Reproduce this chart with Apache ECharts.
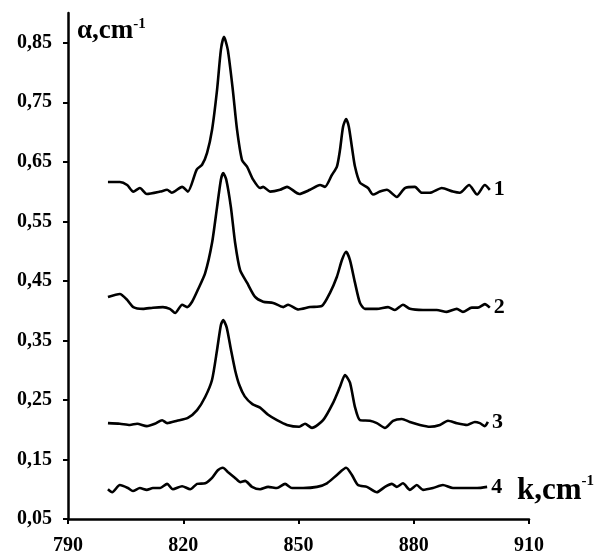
<!DOCTYPE html>
<html>
<head>
<meta charset="utf-8">
<script src="https://cdn.jsdelivr.net/npm/echarts@6/dist/echarts.min.js"></script>
<style>html,body{margin:0;padding:0;background:#fff}#c{width:604px;height:559px}</style>
</head>
<body>
<div id="c"></div>
<script>
// ---- data ----
const yTicks = [0.05, 0.15, 0.25, 0.35, 0.45, 0.55, 0.65, 0.75, 0.85];
const xTicks = [790, 820, 850, 880, 910];
const seriesNames = ['1', '2', '3', '4'];

const k1 = [800.4,803.5,805.4,807,808.7,810.5,814,815.8,817,819.7,821.2,823.5,824.9,826.2,827.5,828.8,829.8,830.6,831.6,832.9,834,835.3,836.6,838.2,840,840.8,842.6,845.2,847,850.2,853,855.6,856.9,858.7,860,860.8,861.6,862.4,863.1,863.9,864.7,866,868.1,869.4,871.2,873,875.6,877.7,880.3,882.1,884.2,887.3,890.2,892,894.4,896.5,898.5,899.8];
const a1 = [.616,.616,.611,.600,.606,.596,.600,.603,.598,.608,.600,.637,.645,.665,.704,.771,.838,.860,.838,.771,.704,.653,.642,.620,.606,.608,.600,.603,.608,.596,.603,.611,.608,.628,.642,.670,.709,.722,.709,.675,.642,.615,.606,.595,.600,.603,.591,.606,.608,.598,.598,.606,.600,.598,.611,.595,.611,.603];

const k2 = [800.4,803.5,805.4,807,809.5,812.1,814.7,816.5,817.9,819.7,821,822.3,823.8,825.7,827.5,828.8,829.8,830.4,831.2,832.4,833.5,834.8,836.6,838.7,840.8,843.4,846,847.3,850,853,856.1,858.2,860,861.3,862.4,863.4,864.7,866,867.3,870.4,873.3,875.1,877.2,879,882.4,886,888.6,891.2,892.8,895.1,896.7,898.5,899.8];
const a2 = [.423,.428,.418,.406,.403,.405,.406,.403,.396,.410,.406,.415,.435,.463,.514,.574,.620,.631,.620,.574,.514,.468,.447,.423,.415,.413,.406,.410,.402,.406,.408,.430,.457,.485,.499,.485,.447,.413,.403,.403,.406,.401,.410,.403,.401,.401,.398,.403,.398,.405,.405,.411,.405];

const k3 = [800.4,803.5,806.1,808,810.5,812.6,814.5,815.8,818.4,821.2,823.6,825.7,827.5,828.8,829.8,830.4,831.3,832.4,833.5,834.6,836,838,840,842.1,844.4,847,850.2,851.7,853.5,856.4,859,860.8,862.1,863.4,864.7,866,868.6,870.4,872.5,874.6,876.9,879,881.6,884.2,886.8,888.9,891.2,893.9,895.9,897.2,898.5,899.3];
const a3 = [.211,.210,.208,.210,.206,.210,.216,.211,.215,.220,.233,.255,.284,.334,.376,.384,.372,.335,.300,.275,.256,.243,.237,.225,.216,.208,.205,.210,.203,.216,.245,.272,.292,.279,.238,.216,.215,.211,.203,.215,.218,.213,.208,.205,.208,.215,.211,.208,.213,.211,.206,.213];

const k4 = [800.4,801.5,803.5,805.6,806.9,808.7,810.5,812.1,814,815.8,817.3,819.7,821.8,823.6,825.7,827.5,829,830.3,831.6,833.5,834.8,836.1,837.9,840,842.1,844.4,846.5,848.3,851.2,854.8,857.4,860,862.4,863.9,865.5,867.8,870.4,872.5,874.3,875.6,877.2,879,880.8,882.4,885,887.6,890.2,892.8,896.5,899.1];
const a4 = [.100,.095,.107,.102,.097,.102,.099,.102,.102,.109,.100,.105,.100,.109,.110,.119,.132,.136,.129,.119,.112,.114,.104,.100,.104,.102,.109,.102,.102,.104,.110,.124,.136,.124,.107,.104,.095,.104,.109,.104,.110,.099,.107,.099,.102,.107,.102,.102,.102,.104];

// ---- chart ----
const FONT = '"Liberation Serif", "Times New Roman", serif';
const ks = [k1, k2, k3, k4];
const as = [a1, a2, a3, a4];

const series = seriesNames.map((name, i) => ({
  name: name,
  type: 'line',
  data: ks[i].map((k, j) => [k, as[i][j]]),
  showSymbol: false,
  smooth: 0.22,
  lineStyle: { color: '#000', width: 2.6 },
  endLabel: {
    show: true,
    formatter: '{a}',
    distance: 4,
    color: '#000',
    fontFamily: FONT,
    fontWeight: 'bold',
    fontSize: 22
  },
  animation: false
}));

const richSup = (size) => ({
  m: { fontFamily: FONT, fontWeight: 'bold', fontSize: size, fill: '#000', lineHeight: size + 2 },
  s: { fontFamily: FONT, fontWeight: 'bold', fontSize: 15, fill: '#000', verticalAlign: 'top', lineHeight: size + 2 }
});

const chart = echarts.init(document.getElementById('c'), null, { renderer: 'canvas' });
chart.setOption({
  animation: false,
  backgroundColor: '#fff',
  grid: { left: 68, right: 75, top: 13, bottom: 40, containLabel: false, outerBoundsMode: 'none' },
  xAxis: {
    type: 'value',
    min: 790, max: 910, interval: 30,
    axisLine: { show: true, lineStyle: { color: '#000', width: 2.5 } },
    axisTick: { show: true, inside: false, length: 5, lineStyle: { color: '#000', width: 2 }, customValues: xTicks },
    axisLabel: { color: '#000', fontFamily: FONT, fontWeight: 'bold', fontSize: 20, margin: 17, customValues: xTicks },
    splitLine: { show: false }
  },
  yAxis: {
    type: 'value',
    min: 0.05, max: 0.9, interval: 0.1,
    axisLine: { show: true, lineStyle: { color: '#000', width: 2.5 } },
    axisTick: { show: true, inside: false, length: 5, lineStyle: { color: '#000', width: 2 }, customValues: yTicks },
    axisLabel: {
      color: '#000', fontFamily: FONT, fontWeight: 'bold', fontSize: 20, margin: 16,
      customValues: yTicks,
      formatter: v => v.toFixed(2).replace('.', ',')
    },
    splitLine: { show: false }
  },
  graphic: [
    { type: 'text', left: 77, top: 17, style: { text: '{m|α,cm}{s|-1}', rich: richSup(27) } },
    { type: 'text', left: 517, top: 474, style: { text: '{m|k,cm}{s|-1}', rich: richSup(31) } }
  ],
  series: series
});
</script>
</body>
</html>
